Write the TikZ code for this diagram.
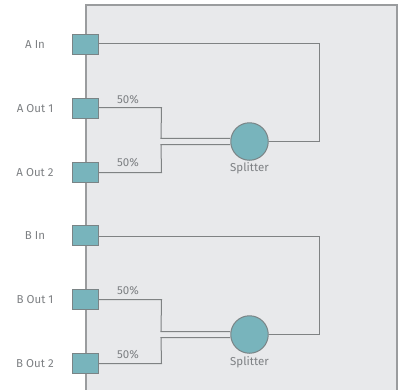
\documentclass[tikz,border=0pt]{standalone}
\usepackage{fontspec}
\setmainfont{Fira Sans}
\definecolor{panelbg}{HTML}{E8E9EB}
\definecolor{panelbd}{HTML}{9A9C9E}
\definecolor{teal1}{HTML}{78B4BC}
\definecolor{portedge}{HTML}{7A8486}
\definecolor{wirec}{HTML}{7F8283}
\definecolor{txt}{HTML}{7D8083}
\begin{document}
\begin{tikzpicture}[x=1pt,y=-1pt,
  port/.style={draw=portedge, fill=teal1, line width=1pt, minimum width=26pt, minimum height=20pt, inner sep=0pt},
  split/.style={circle, draw=portedge, fill=teal1, line width=1pt, minimum size=37.5pt, inner sep=0pt},
  wire/.style={draw=wirec, line width=1pt},
  lbl/.style={text=txt, font=\fontsize{11.5}{13}\selectfont, inner sep=0pt},
]
\useasboundingbox (0,0) rectangle (403,389);
\clip (0,0) rectangle (403,389);
\fill[panelbg] (86,5) rectangle (397,400);
\draw[panelbd, line width=1.4pt] (86,400) -- (86,5) -- (397,5) -- (397,400);

% splitters
\node[split] (sa) at (249.5,141.5) {};
\node[split] (sb) at (249.5,334.5) {};
\node[lbl] (sal) at (249.5,168.5) {Splitter};
\node[lbl] (sbl) at (249.5,362.5) {Splitter};

% wires A
\draw[wire] (85,43.5) -- (319.5,43.5) -- (319.5,141.5) -- (sa.east);
\draw[wire] (85,107.5) -- (161.5,107.5) -- ([xshift=-69.5pt]sa.171) -- (sa.171);
\draw[wire] (85,172.5) -- (161.5,172.5) -- ([xshift=-69.5pt]sa.189) -- (sa.189);
% wires B
\draw[wire] (85,236.5) -- (319.5,236.5) -- (319.5,334.5) -- (sb.east);
\draw[wire] (85,299.5) -- (161.5,299.5) -- ([xshift=-69.5pt]sb.171) -- (sb.171);
\draw[wire] (85,363.5) -- (161.5,363.5) -- ([xshift=-69.5pt]sb.189) -- (sb.189);

% ports
\node[port] (ain) at (85,44) {};
\node[port] (ao1) at (85,108) {};
\node[port] (ao2) at (85,172) {};
\node[port] (bin) at (85,235) {};
\node[port] (bo1) at (85,299) {};
\node[port] (bo2) at (85,363) {};

% port labels
\node[lbl] (lain) at (35,44.5) {A In};
\node[lbl] (lao1) at (35,108.5) {A Out 1};
\node[lbl] (lao2) at (35,172.5) {A Out 2};
\node[lbl] (lbin) at (35,235.5) {B In};
\node[lbl] (lbo1) at (35,299.5) {B Out 1};
\node[lbl] (lbo2) at (35,363.5) {B Out 2};

% percentages
\node[lbl] (pa1) at (128,99.5) {50\%};
\node[lbl] (pa2) at (128,163) {50\%};
\node[lbl] (pb1) at (128,291) {50\%};
\node[lbl] (pb2) at (128,355) {50\%};
\end{tikzpicture}
\end{document}
